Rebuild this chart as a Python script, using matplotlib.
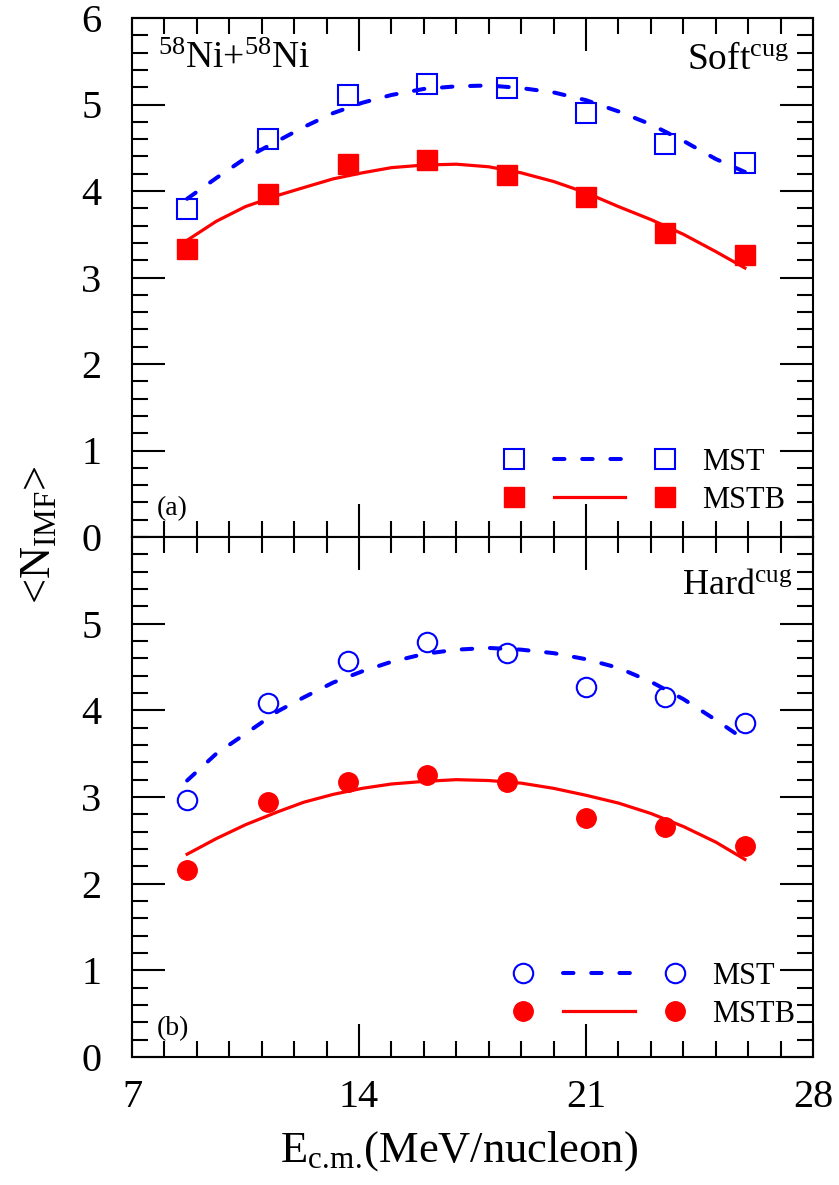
import matplotlib
matplotlib.use("Agg")
import matplotlib.pyplot as plt
from matplotlib.lines import Line2D
from matplotlib.legend_handler import HandlerTuple
from matplotlib.ticker import MultipleLocator

plt.rcParams['font.family'] = ['Liberation Serif', 'DejaVu Serif']
plt.rcParams['mathtext.fontset'] = 'custom'
plt.rcParams['mathtext.rm'] = 'Liberation Serif'
plt.rcParams['mathtext.it'] = 'Liberation Serif:italic'

# beam energy per nucleon
energie = [8.7, 11.2, 13.65, 16.1, 18.55, 21.0, 23.45, 25.9]

# (a) soft equation of state
soft_mst = [3.79, 4.60, 5.11, 5.24, 5.19, 4.90, 4.54, 4.32]
soft_mstb = [3.33, 3.97, 4.31, 4.36, 4.18, 3.93, 3.51, 3.26]

# (b) hard equation of state
hard_mst = [2.97, 4.09, 4.57, 4.79, 4.66, 4.27, 4.15, 3.85]
hard_mstb = [2.16, 2.94, 3.17, 3.25, 3.17, 2.76, 2.65, 2.43]

# fitted curves
fit_x = [8.7, 9.6, 10.5, 11.5, 12.3, 13.2, 14.1, 15.0, 16.0, 17.0,
         18.0, 19.0, 20.0, 21.0, 22.0, 23.0, 24.0, 25.0, 25.9]
soft_mst_fit = [3.91, 4.15, 4.38, 4.58, 4.74, 4.90, 5.02, 5.11, 5.18, 5.21,
                5.22, 5.19, 5.14, 5.05, 4.92, 4.77, 4.58, 4.37, 4.22]
soft_mstb_fit = [3.43, 3.65, 3.82, 3.95, 4.04, 4.14, 4.21, 4.27, 4.30, 4.31,
                 4.28, 4.21, 4.11, 3.98, 3.82, 3.67, 3.50, 3.30, 3.11]
hard_mst_fit = [3.19, 3.50, 3.73, 3.99, 4.15, 4.32, 4.45, 4.56, 4.65, 4.70,
                4.72, 4.70, 4.66, 4.59, 4.49, 4.33, 4.13, 3.89, 3.66]
hard_mstb_fit = [2.34, 2.52, 2.68, 2.83, 2.94, 3.03, 3.10, 3.15, 3.18, 3.20,
                 3.19, 3.16, 3.10, 3.02, 2.93, 2.81, 2.66, 2.48, 2.28]

blauw = '#0000ff'
rood = '#ff0000'
streep = (2.6, 4.4)
ms = 14


def maak_as(ax):
	ax.set_xlim(7, 28)
	ax.set_ylim(0, 6)
	ax.xaxis.set_major_locator(MultipleLocator(7))
	ax.xaxis.set_minor_locator(MultipleLocator(1))
	ax.yaxis.set_major_locator(MultipleLocator(1))
	ax.yaxis.set_minor_locator(MultipleLocator(0.2))
	ax.tick_params(which='both', direction='in', top=True, right=True, width=1.5)
	ax.tick_params(which='major', length=24)
	ax.tick_params(which='minor', length=11.5)
	ax.tick_params(axis='y', labelsize=29, pad=22)
	ax.tick_params(axis='x', labelsize=29, pad=16)
	for spine in ax.spines.values():
		spine.set_linewidth(1.5)


def teken_paneel(ax, mst, mstb, mst_fit, mstb_fit, marker):
	ax.plot(fit_x, mst_fit, color=blauw, lw=2.9, dashes=streep, dash_capstyle='round')
	ax.plot(fit_x, mstb_fit, color=rood, lw=2.3)
	ax.plot(energie, mst, ls='none', marker=marker, ms=ms, mfc='none', mec=blauw, mew=1.5)
	ax.plot(energie, mstb, ls='none', marker=marker, ms=ms, mfc=rood, mec=rood, mew=1.0)

	h_mst = (Line2D([], [], ls='none', marker=marker, ms=ms, mfc='none', mec=blauw, mew=1.5),
	         Line2D([], [], color=blauw, lw=2.9, dashes=streep, dash_capstyle='round'),
	         Line2D([], [], ls='none', marker=marker, ms=ms, mfc='none', mec=blauw, mew=1.5))
	h_mstb = (Line2D([], [], ls='none', marker=marker, ms=ms, mfc=rood, mec=rood),
	          Line2D([], [], color=rood, lw=2.3),
	          Line2D([], [], ls='none', marker=marker, ms=ms, mfc=rood, mec=rood))
	return [h_mst, h_mstb]


fig = plt.figure(figsize=(8.39, 11.85), dpi=100)
links, breedte = 132 / 839, 681 / 839
ax_a = fig.add_axes([links, 648 / 1185, breedte, 519 / 1185])
ax_b = fig.add_axes([links, 128 / 1185, breedte, 520 / 1185])

maak_as(ax_a)
maak_as(ax_b)
ax_a.tick_params(axis='x', labelbottom=False)
ax_b.set_yticks([0, 1, 2, 3, 4, 5])

handles_a = teken_paneel(ax_a, soft_mst, soft_mstb, soft_mst_fit, soft_mstb_fit, 's')
handles_b = teken_paneel(ax_b, hard_mst, hard_mstb, hard_mst_fit, hard_mstb_fit, 'o')

for ax, handles, x0, y0 in [(ax_a, handles_a, 0.508, 0.172), (ax_b, handles_b, 0.522, 0.183)]:
	ax.legend(handles, ['MST', 'MSTB'], loc='upper left', bbox_to_anchor=(x0, y0),
	          handler_map={tuple: HandlerTuple(ndivide=None, pad=0.15)},
	          handlelength=7.3, handletextpad=0.05, labelspacing=0.30,
	          borderpad=0, borderaxespad=0, frameon=False, fontsize=22)

ax_a.text(0.038, 0.955, r'$^{58}$Ni+$^{58}$Ni', transform=ax_a.transAxes,
          fontsize=27, ha='left', va='top')
ax_a.text(0.965, 0.952, r'Soft$^{\rm cug}$', transform=ax_a.transAxes,
          fontsize=27, ha='right', va='top')
ax_b.text(0.97, 0.938, r'Hard$^{\rm cug}$', transform=ax_b.transAxes,
          fontsize=26, ha='right', va='top')
ax_a.text(0.037, 0.03, '(a)', transform=ax_a.transAxes, fontsize=20, ha='left', va='bottom')
ax_b.text(0.037, 0.03, '(b)', transform=ax_b.transAxes, fontsize=20, ha='left', va='bottom')

fig.text(39 / 839, 0.549, r'<N$_{\rm IMF}$>', rotation=90, fontsize=32, ha='center', va='center')
fig.text(459 / 839, 0.0194, r'E$_{\rm c.\!m.\!}$(MeV/nucleon)', fontsize=32, ha='center', va='baseline')

fig.savefig('out.png', dpi=100)
